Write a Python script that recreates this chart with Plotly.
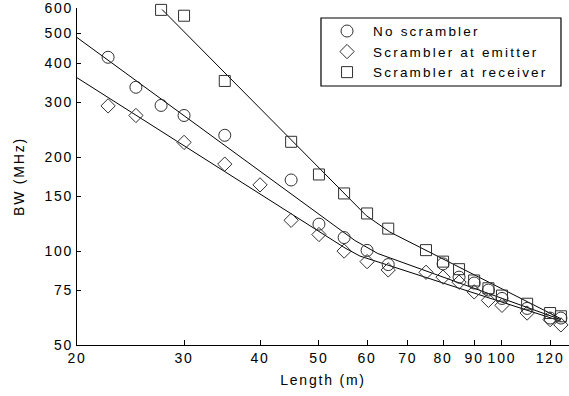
import math
import plotly.graph_objects as go

# ---- data ----
len_no = [22.5, 25, 27.5, 30, 35, 45, 50, 55, 60, 65, 80, 85, 90, 95, 100, 110, 120, 125]
bw_no = [418, 335, 293, 272, 235, 169, 122, 110.5, 100.5, 90.5, 91, 82.5, 79, 75, 70.5, 65.5, 61, 61]

len_em = [22.5, 25, 30, 35, 40, 45, 50, 55, 60, 65, 75, 80, 85, 90, 95, 100, 110, 120, 125]
bw_em = [292, 272, 223, 190, 163, 125.5, 113, 100, 92.5, 87, 85.5, 82.5, 79.5, 74, 69.5, 67, 63.3, 60.3, 58]

len_rx = [27.5, 30, 35, 45, 50, 55, 60, 65, 75, 80, 85, 90, 95, 100, 110, 120, 125]
bw_rx = [593, 568, 351, 224, 176, 153, 132, 118, 100.7, 92.5, 87.5, 80.5, 76, 72, 67.8, 63.3, 61.8]

# fitted curves (knots)
fit_no_len = [20, 57.3, 62.5, 125]
fit_no_bw = [483.6, 108.1, 98.2, 60.3]
fit_em_len = [20, 55.2, 58.4, 125]
fit_em_bw = [359.4, 102.3, 96.4, 59.6]
fit_rx_len = [27.6, 59.8, 65.4, 125]
fit_rx_bw = [594.8, 130, 115.1, 60.7]

names = ["No scrambler", "Scrambler at emitter", "Scrambler at receiver"]
x_ticks = [20, 30, 40, 50, 60, 70, 80, 90, 100, 120]
y_ticks = [50, 75, 100, 150, 200, 300, 400, 500, 600]

FONT = "Liberation Sans, Arial, sans-serif"
FONT2 = "Liberation Sans, Arial, Helvetica, sans-serif"
mk_col = "#303030"

fig = go.Figure()
for fx, fy in [(fit_no_len, fit_no_bw), (fit_em_len, fit_em_bw), (fit_rx_len, fit_rx_bw)]:
    fig.add_trace(go.Scatter(x=fx, y=fy, mode="lines", line=dict(color="black", width=1),
                             showlegend=False, hoverinfo="skip"))

for xs, ys, nm, sym, sz in [(len_no, bw_no, names[0], "circle-open", 12),
                            (len_em, bw_em, names[1], "diamond-open", 11),
                            (len_rx, bw_rx, names[2], "square-open", 11)]:
    fig.add_trace(go.Scatter(x=xs, y=ys, mode="markers", name=nm, cliponaxis=False,
                             marker=dict(symbol=sym, size=sz, color=mk_col,
                                         line=dict(width=1, color=mk_col))))

fig.update_layout(
    width=569, height=396,
    margin=dict(l=77, r=0, t=8, b=51, autoexpand=False),
    paper_bgcolor="white", plot_bgcolor="white",
    font=dict(family=FONT, size=14, color="black"),
    legend=dict(x=0.496, y=0.977, xanchor="left", yanchor="top",
                borderwidth=0, bgcolor="rgba(0,0,0,0)",
                font=dict(size=13.5), itemwidth=42, tracegroupgap=0),
    # legend frame
    shapes=[dict(type="rect", xref="paper", yref="paper",
                 x0=0.4959, x1=0.9837, y0=0.7685, y1=0.9703,
                 line=dict(color="black", width=1.2), fillcolor="white", layer="above")],
)
fig.update_xaxes(type="log", range=[math.log10(20), math.log10(20) + 492 / 608],
                 tickvals=x_ticks, ticktext=[str(v) for v in x_ticks],
                 ticks="inside", ticklen=5, tickcolor="black", automargin=False,
                 showline=True, linecolor="black", linewidth=1,
                 showgrid=False, zeroline=False,
                 title=dict(text="Length (m)", font=dict(size=14), standoff=10))
fig.update_yaxes(type="log", range=[math.log10(50), math.log10(50) + 337 / 312],
                 tickvals=y_ticks, ticktext=[str(v) for v in y_ticks],
                 ticks="inside", ticklen=4, tickcolor="black", automargin=False,
                 showline=True, linecolor="black", linewidth=1,
                 showgrid=False, zeroline=False,
                 title=dict(text="BW (MHz)", font=dict(size=14), standoff=16))

# page without body margin; widen the letter spacing like the reference rendering, then redraw
post = (
    "var s=document.createElement('style');"
    "s.textContent='body{margin:0;} svg text{letter-spacing:1.8px;} svg text.legendtext{letter-spacing:2.2px;}';"
    "document.head.appendChild(s);"
    "var gd=document.getElementById('{plot_id}');"
    "return Plotly.relayout(gd,{'font.family':'" + FONT2 + "'});"
)
fig.write_html("out.html", post_script=post, config={"displayModeBar": False})
